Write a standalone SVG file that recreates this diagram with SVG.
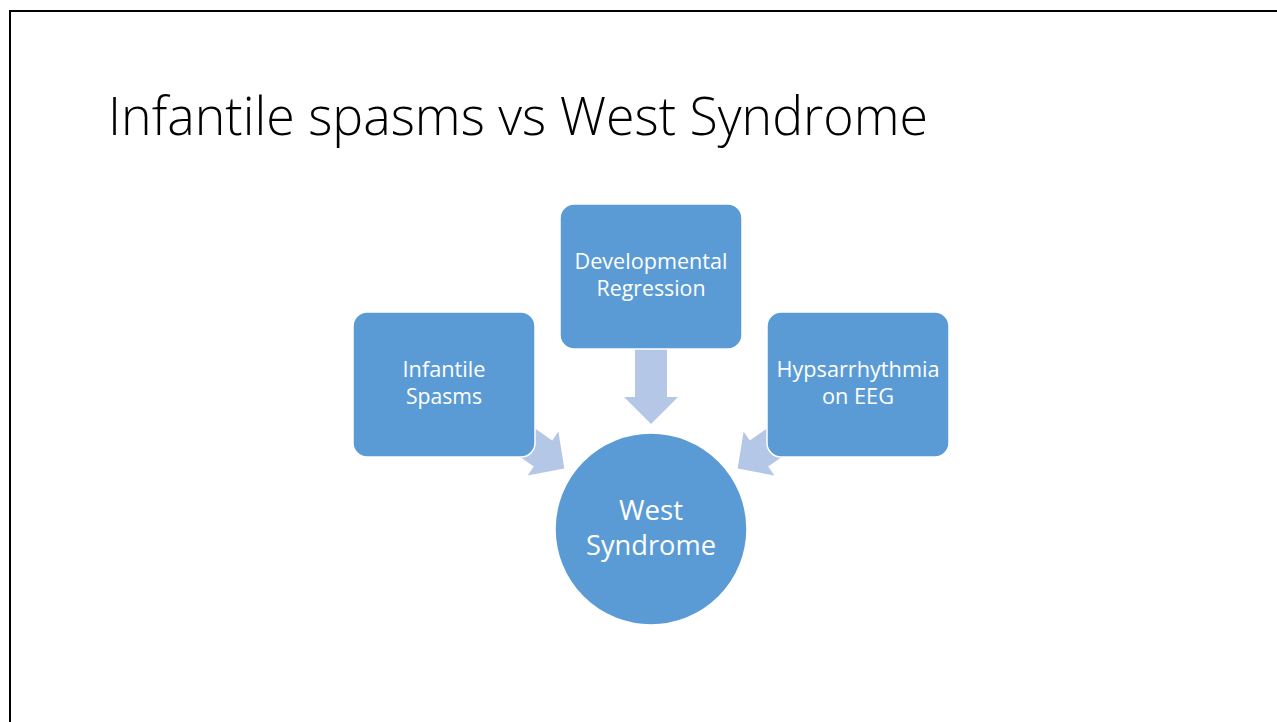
<svg xmlns="http://www.w3.org/2000/svg" width="1277" height="722" viewBox="0 0 1277 722">
<style>
.node{fill:#5B9BD5;stroke:#FFFFFF;stroke-width:1.5}
.arrow{fill:#B4C7E7}
.lbl{font-family:"Open Sans","Liberation Sans",sans-serif;font-size:21px;fill:#FFFFFF;text-anchor:middle}
.big{font-size:27px}
.title{font-family:"Open Sans","Liberation Sans",sans-serif;font-weight:300;font-size:53px;fill:#000000}
</style>
<rect x="0" y="0" width="1277" height="722" fill="#FFFFFF"/>
<path d="M10,722 V11 H1277" fill="none" stroke="#000000" stroke-width="2"/>
<text class="title" x="108" y="135" textLength="820" lengthAdjust="spacingAndGlyphs">Infantile spasms vs West Syndrome</text>
<g id="connectors">
<polygon class="arrow" points="564.3,468.4 527.6,475.6 533.8,466.6 468.2,420.8 486.6,394.6 552.2,440.4 558.4,431.4"/>
<polygon class="arrow" points="737.7,468.4 774.4,475.6 768.2,466.6 833.8,420.8 815.4,394.6 749.8,440.4 743.6,431.4"/>
<polygon class="arrow" points="635,340 667,340 667,397 678,397 651,424 624,397 635,397"/>
</g>
<g id="node-infantile">
<rect class="node" x="353" y="312" width="182" height="145" rx="14"/>
<text class="lbl" x="444" y="377" textLength="83" lengthAdjust="spacingAndGlyphs">Infantile</text>
<text class="lbl" x="444" y="404" textLength="76" lengthAdjust="spacingAndGlyphs">Spasms</text>
</g>
<g id="node-developmental">
<rect class="node" x="560" y="204" width="182" height="145" rx="14"/>
<text class="lbl" x="651" y="269" textLength="153" lengthAdjust="spacingAndGlyphs">Developmental</text>
<text class="lbl" x="651" y="296" textLength="109" lengthAdjust="spacingAndGlyphs">Regression</text>
</g>
<g id="node-hypsarrhythmia">
<rect class="node" x="767" y="312" width="182" height="145" rx="14"/>
<text class="lbl" x="858" y="377" textLength="163" lengthAdjust="spacingAndGlyphs">Hypsarrhythmia</text>
<text class="lbl" x="858" y="404" textLength="72" lengthAdjust="spacingAndGlyphs">on EEG</text>
</g>
<g id="node-west">
<circle class="node" cx="651" cy="529" r="96"/>
<text class="lbl big" x="651" y="520" textLength="64" lengthAdjust="spacingAndGlyphs">West</text>
<text class="lbl big" x="651" y="555" textLength="130" lengthAdjust="spacingAndGlyphs">Syndrome</text>
</g>
</svg>
